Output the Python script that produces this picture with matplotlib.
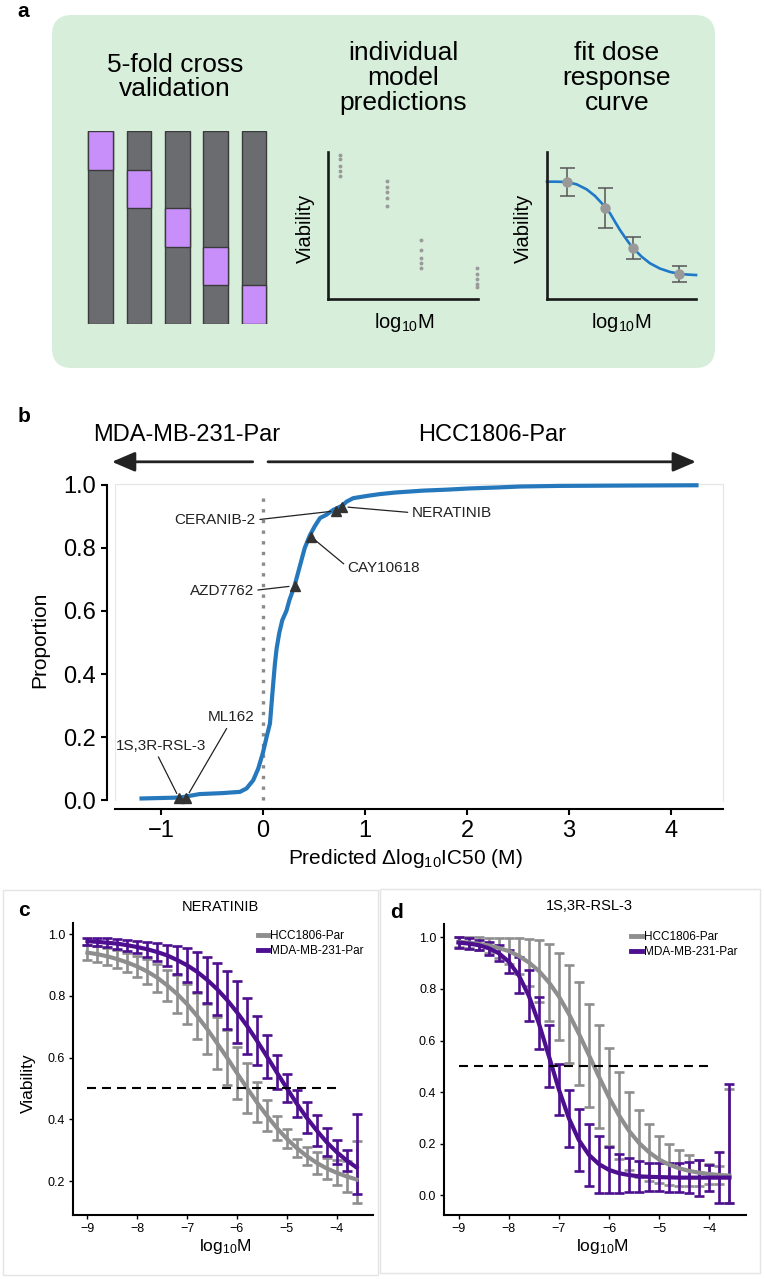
import matplotlib
matplotlib.use('Agg')
import matplotlib.pyplot as plt
from matplotlib.patches import FancyBboxPatch, Rectangle
from matplotlib.lines import Line2D

plt.rcParams['font.family'] = ['Liberation Sans', 'DejaVu Sans']
plt.rcParams['mathtext.default'] = 'regular'

# ---------------- data ----------------
# panel a (schematic)
n_folds = 5
pred_x = [0.08, 0.39, 0.62, 0.99]
pred_y = [[0.98, 0.95, 0.905, 0.87, 0.84],
          [0.80, 0.76, 0.73, 0.69, 0.63],
          [0.40, 0.33, 0.28, 0.245, 0.21],
          [0.21, 0.17, 0.136, 0.10, 0.08]]
fit_pt_x = [0.134, 0.389, 0.577, 0.886]
fit_pt_y = [0.796, 0.619, 0.347, 0.170]
fit_pt_err = [0.095, 0.133, 0.075, 0.054]
fit_curve_x = [0.0, 0.065, 0.132, 0.199, 0.266, 0.322, 0.378, 0.423, 0.456, 0.490,
               0.523, 0.557, 0.590, 0.635, 0.691, 0.758, 0.826, 0.893, 0.949, 1.0]
fit_curve_y = [0.798, 0.798, 0.796, 0.780, 0.746, 0.701, 0.640, 0.583, 0.526, 0.469,
               0.420, 0.372, 0.334, 0.288, 0.243, 0.207, 0.184, 0.170, 0.166, 0.163]

# panel b: empirical CDF of predicted delta log10 IC50
ecdf_x = [-1.19, -0.81, -0.62, -0.40, -0.225, -0.16, -0.095, -0.046, 0.0, 0.036,
          0.069, 0.085, 0.101, 0.118, 0.134, 0.16, 0.19, 0.23, 0.26, 0.31,
          0.36, 0.41, 0.46, 0.51, 0.56, 0.62, 0.69, 0.72, 0.78, 0.82,
          0.885, 1.017, 1.147, 1.30, 1.57, 1.80, 2.03, 2.30, 2.52, 2.91,
          3.50, 4.25]
ecdf_y = [0.005, 0.008, 0.019, 0.022, 0.026, 0.037, 0.063, 0.10, 0.15, 0.20,
          0.243, 0.307, 0.37, 0.434, 0.48, 0.53, 0.571, 0.60, 0.635, 0.68,
          0.74, 0.80, 0.84, 0.87, 0.895, 0.905, 0.921, 0.925, 0.935, 0.947,
          0.958, 0.965, 0.971, 0.976, 0.982, 0.985, 0.989, 0.992, 0.995, 0.997,
          0.998, 0.999]
drug_names = ['1S,3R-RSL-3', 'ML162', 'AZD7762', 'CAY10618', 'CERANIB-2', 'NERATINIB']
drug_x = [-0.82, -0.75, 0.31, 0.47, 0.72, 0.78]
drug_y = [0.005, 0.008, 0.68, 0.836, 0.918, 0.931]

# panels c, d: dose response
log_dose = [-9.0, -8.8, -8.6, -8.4, -8.2, -8.0, -7.8, -7.6, -7.4, -7.2,
            -7.0, -6.8, -6.6, -6.4, -6.2, -6.0, -5.8, -5.6, -5.4, -5.2,
            -5.0, -4.8, -4.6, -4.4, -4.2, -4.0, -3.8, -3.6]
c_hcc_fit = [0.940, 0.935, 0.928, 0.919, 0.908, 0.895, 0.879, 0.859, 0.834, 0.806,
             0.773, 0.735, 0.693, 0.647, 0.600, 0.550, 0.502, 0.455, 0.412, 0.372,
             0.337, 0.307, 0.281, 0.259, 0.241, 0.227, 0.215, 0.205]
c_hcc_sd = [0.025, 0.025, 0.028, 0.03, 0.032, 0.035, 0.04, 0.045, 0.05, 0.06,
            0.065, 0.075, 0.08, 0.085, 0.09, 0.085, 0.08, 0.065, 0.05, 0.04,
            0.03, 0.03, 0.03, 0.035, 0.035, 0.04, 0.05, 0.1]
c_mda_fit = [0.977, 0.975, 0.972, 0.969, 0.964, 0.958, 0.951, 0.942, 0.931, 0.916,
             0.899, 0.878, 0.852, 0.822, 0.787, 0.747, 0.703, 0.655, 0.604, 0.552,
             0.501, 0.451, 0.405, 0.364, 0.326, 0.294, 0.267, 0.244]
c_mda_sd = [0.012, 0.013, 0.014, 0.016, 0.018, 0.02, 0.025, 0.03, 0.035, 0.045,
            0.055, 0.065, 0.075, 0.085, 0.095, 0.1, 0.09, 0.08, 0.07, 0.055,
            0.045, 0.045, 0.05, 0.05, 0.045, 0.04, 0.035, 0.13]
d_hcc_fit = [0.983, 0.980, 0.975, 0.969, 0.959, 0.947, 0.928, 0.903, 0.870, 0.826,
             0.771, 0.703, 0.626, 0.543, 0.459, 0.379, 0.309, 0.249, 0.202, 0.166,
             0.138, 0.118, 0.104, 0.094, 0.087, 0.082, 0.078, 0.076]
d_hcc_sd = [0.02, 0.02, 0.025, 0.03, 0.04, 0.05, 0.07, 0.09, 0.12, 0.15,
            0.17, 0.19, 0.2, 0.2, 0.2, 0.19, 0.17, 0.15, 0.13, 0.11,
            0.09, 0.08, 0.07, 0.06, 0.05, 0.04, 0.035, 0.22]
d_mda_fit = [0.980, 0.976, 0.970, 0.958, 0.939, 0.906, 0.853, 0.774, 0.667, 0.540,
             0.410, 0.298, 0.213, 0.156, 0.120, 0.098, 0.085, 0.078, 0.073, 0.071,
             0.070, 0.069, 0.068, 0.068, 0.068, 0.068, 0.068, 0.068]
d_mda_sd = [0.02, 0.02, 0.02, 0.025, 0.03, 0.045, 0.07, 0.1, 0.1, 0.12,
            0.1, 0.11, 0.12, 0.12, 0.11, 0.09, 0.075, 0.065, 0.06, 0.055,
            0.055, 0.055, 0.055, 0.06, 0.07, 0.05, 0.1, 0.23]
# bar centres equal the fit except the highest dose
c_hcc_mid = c_hcc_fit[:-1] + [0.23]
c_mda_mid = c_mda_fit[:-1] + [0.287]
d_hcc_mid = d_hcc_fit[:-1] + [0.19]
d_mda_mid = d_mda_fit[:-1] + [0.20]

# ---------------- style ----------------
W, H = 765, 1279
GREEN = '#d7eedb'
BAR_GRAY = '#6b6c70'
BAR_PURPLE = '#c88ffa'
BLUE = '#2678bd'
GRAY = '#8e8e8e'
PURPLE = '#4d0f8f'


def rect(l, t, r, b):
    return [l / W, 1 - b / H, (r - l) / W, (b - t) / H]


fig = plt.figure(figsize=(W / 100, H / 100), dpi=100)

ax0 = fig.add_axes([0, 0, 1, 1])
ax0.set_xlim(0, W)
ax0.set_ylim(H, 0)
ax0.axis('off')
ax0.set_zorder(-1)

# ---------------- panel a ----------------
ax0.add_patch(FancyBboxPatch((72, 35), 623, 313, boxstyle='round,pad=20',
                             fc=GREEN, ec='none'))
ax0.text(17, 17, 'a', fontsize=15, fontweight='bold', va='baseline')
ax0.text(175, 77, '5-fold cross\nvalidation', fontsize=19, ha='center', va='center',
         linespacing=1.05)
ax0.text(403, 78, 'individual\nmodel\npredictions', fontsize=19, ha='center',
         va='center', linespacing=1.05)
ax0.text(617, 78, 'fit dose\nresponse\ncurve', fontsize=19, ha='center',
         va='center', linespacing=1.05)
for xc in (305, 523):
    ax0.text(xc, 228, 'Viability', fontsize=14.5, rotation=90, ha='center', va='center')
for xc in (404, 621):
    ax0.text(xc, 322, 'log$_{10}$M', fontsize=14.5, ha='center', va='center')

ax_f = fig.add_axes(rect(81.3, 131, 273.3, 324))
ax_f.set_facecolor('none')
for i in range(n_folds):
    ax_f.bar(i, n_folds, bottom=0, width=0.64, color=BAR_GRAY, edgecolor='#3a3a3a', lw=1)
    ax_f.bar(i, 1, bottom=i, width=0.64, color=BAR_PURPLE, edgecolor='#3a3a3a', lw=1)
ax_f.set_xlim(-0.5, n_folds - 0.5)
ax_f.set_ylim(n_folds, 0)
ax_f.axis('off')

ax_p = fig.add_axes(rect(328, 152, 478, 299))
ax_p.set_facecolor('none')
for xv, ys in zip(pred_x, pred_y):
    ax_p.plot([xv] * len(ys), ys, 'o', color='#9a9a9a', ms=2.8, mew=0, clip_on=False)
ax_p.set_xlim(0, 1)
ax_p.set_ylim(0, 1)

ax_r = fig.add_axes(rect(547, 152, 696, 299))
ax_r.set_facecolor('none')
ax_r.plot(fit_curve_x, fit_curve_y, color='#1f78c8', lw=1.9, clip_on=False)
ax_r.errorbar(fit_pt_x, fit_pt_y, yerr=fit_pt_err, fmt='o', color='#999999', ms=6.5,
              ecolor='#555555', elinewidth=1.1, capsize=5.4, capthick=1.1, zorder=3)
ax_r.set_xlim(0, 1)
ax_r.set_ylim(0, 1)

for a in (ax_p, ax_r):
    for s in ('top', 'right'):
        a.spines[s].set_visible(False)
    for s in ('left', 'bottom'):
        a.spines[s].set_linewidth(1.9)
        a.spines[s].set_color('#1a1a1a')
    a.set_xticks([])
    a.set_yticks([])

# ---------------- panel b ----------------
ax0.text(18, 421.5, 'b', fontsize=15, fontweight='bold', va='baseline')
ax_b = fig.add_axes(rect(115, 484, 723, 801))
ax_b.plot(ecdf_x, ecdf_y, color=BLUE, lw=3, zorder=3, clip_on=False)
ax_b.plot([0, 0], [0, 0.975], color='#8a8a8a', lw=2.4, ls=(0, (1.0, 2.2)), zorder=2)
ax_b.plot(drug_x, drug_y, '^', color='#333333', ms=7, zorder=4, clip_on=False)
ax_b.set_xlim(-1.45, 4.51)
ax_b.set_ylim(-0.003, 1.003)

labels_b = [
    ('1S,3R-RSL-3', (-1.0, 0.172), 'center', (0.45, 0.0)),
    ('ML162', (-0.31, 0.262), 'center', (0.45, 0.0)),
    ('AZD7762', (-0.09, 0.665), 'right', (1.0, 0.5)),
    ('CAY10618', (0.83, 0.735), 'left', (0.0, 0.6)),
    ('CERANIB-2', (-0.07, 0.889), 'right', (1.0, 0.5)),
    ('NERATINIB', (1.46, 0.912), 'left', (0.0, 0.5)),
]
for (name, pos, ha, rp), xv, yv in zip(labels_b, drug_x, drug_y):
    ax_b.annotate(name, xy=(xv, yv), xytext=pos, ha=ha, va='center', fontsize=11,
                  color='#222222', zorder=5,
                  arrowprops=dict(arrowstyle='-', color='#222222', lw=0.9,
                                  shrinkA=1, shrinkB=4, relpos=rp))

arr = dict(arrowstyle='-|>,head_length=1.4,head_width=0.6', color='#222222', lw=2,
           mutation_scale=10, shrinkA=0, shrinkB=0)
ax_b.annotate('', xy=(-1.48, 1.07), xytext=(-0.10, 1.07),
              xycoords=('data', 'axes fraction'), textcoords=('data', 'axes fraction'),
              arrowprops=arr, annotation_clip=False)
ax_b.annotate('', xy=(4.245, 1.07), xytext=(0.05, 1.07),
              xycoords=('data', 'axes fraction'), textcoords=('data', 'axes fraction'),
              arrowprops=arr, annotation_clip=False)
ax0.text(187, 435, 'MDA-MB-231-Par', fontsize=17, ha='center', va='center')
ax0.text(492, 435, 'HCC1806-Par', fontsize=17, ha='center', va='center')

for s in ('top', 'right'):
    ax_b.spines[s].set_color('#e6e6e6')
    ax_b.spines[s].set_linewidth(0.8)
ax_b.add_patch(Rectangle((0, 0), 1, 1, transform=ax_b.transAxes, fill=False,
                         ec='#e6e6e6', lw=0.8, zorder=0))
ax_b.spines['left'].set_position(('outward', 6))
ax_b.spines['left'].set_bounds(0, 1)
ax_b.spines['bottom'].set_position(('outward', 6))
for s in ('left', 'bottom'):
    ax_b.spines[s].set_linewidth(1.5)
ax_b.set_xticks([-1, 0, 1, 2, 3, 4])
ax_b.set_yticks([0, 0.2, 0.4, 0.6, 0.8, 1.0])
ax_b.set_yticklabels(['0.0', '0.2', '0.4', '0.6', '0.8', '1.0'])
ax_b.tick_params(labelsize=17, length=4, width=1.5, pad=4)
ax0.text(40, 640, 'Proportion', fontsize=15, rotation=90, ha='center', va='center')
ax0.text(405, 858, 'Predicted Δlog$_{10}$IC50 (M)', fontsize=15, ha='center',
         va='center')

# ---------------- panels c, d ----------------
ax0.add_patch(Rectangle((3, 890), 375, 385, fill=False, ec='#e4e4e4', lw=1))
ax0.add_patch(Rectangle((380, 889), 380, 384, fill=False, ec='#e4e4e4', lw=1))
ax0.text(18, 916.5, 'c', fontsize=15, fontweight='bold', va='baseline')
ax0.text(390, 918, 'd', fontsize=15, fontweight='bold', va='baseline')


def dose_panel(box, title, tpos, series, ylim, yticks, legend_anchor, xlab_x):
    ax = fig.add_axes(rect(*box))
    for mid, fit, sd, col in series:
        ax.errorbar(log_dose, mid, yerr=sd, fmt='none', ecolor=col, elinewidth=1.9,
                    capsize=3.6, capthick=1.9, zorder=2)
        ax.plot(log_dose, fit, color=col, lw=3, zorder=3)
    ax.plot([-9, -4], [0.5, 0.5], color='black', lw=1.5, dashes=(4.3, 2.9), zorder=4)
    ax.set_xlim(-9.29, -3.27)
    ax.set_ylim(*ylim)
    ax.set_xticks([-9, -8, -7, -6, -5, -4])
    ax.set_yticks(yticks)
    ax.set_yticklabels(['%.1f' % v for v in yticks])
    ax.tick_params(labelsize=9, length=3, width=1, pad=2.5)
    for s in ('top', 'right'):
        ax.spines[s].set_visible(False)
    for s in ('left', 'bottom'):
        ax.spines[s].set_linewidth(1.5)
    handles = [Line2D([0], [0], color=GRAY, lw=3.5), Line2D([0], [0], color=PURPLE, lw=3.5)]
    ax.legend(handles, ['HCC1806-Par', 'MDA-MB-231-Par'], loc='upper left',
              bbox_to_anchor=legend_anchor, frameon=False, fontsize=8.5,
              handlelength=0.9, handletextpad=0.2, labelspacing=0.25,
              borderpad=0, borderaxespad=0)
    ax0.text(tpos[0], tpos[1], title, fontsize=10.5, ha='center', va='center')
    ax0.text(xlab_x, 1247, 'log$_{10}$M', fontsize=12.5, ha='center', va='center')
    return ax


dose_panel((73, 923, 373, 1215), 'NERATINIB', (220, 907),
           [(c_hcc_mid, c_hcc_fit, c_hcc_sd, GRAY), (c_mda_mid, c_mda_fit, c_mda_sd, PURPLE)],
           (0.09, 1.036), [0.2, 0.4, 0.6, 0.8, 1.0], (0.615, 0.975), 225)
dose_panel((444, 924, 746, 1215), '1S,3R-RSL-3', (589, 906),
           [(d_hcc_mid, d_hcc_fit, d_hcc_sd, GRAY), (d_mda_mid, d_mda_fit, d_mda_sd, PURPLE)],
           (-0.077, 1.052), [0.0, 0.2, 0.4, 0.6, 0.8, 1.0], (0.62, 0.975), 602)
ax0.text(28, 1083, 'Viability', fontsize=12.5, rotation=90, ha='center', va='center')

fig.savefig('out.png', dpi=100)
